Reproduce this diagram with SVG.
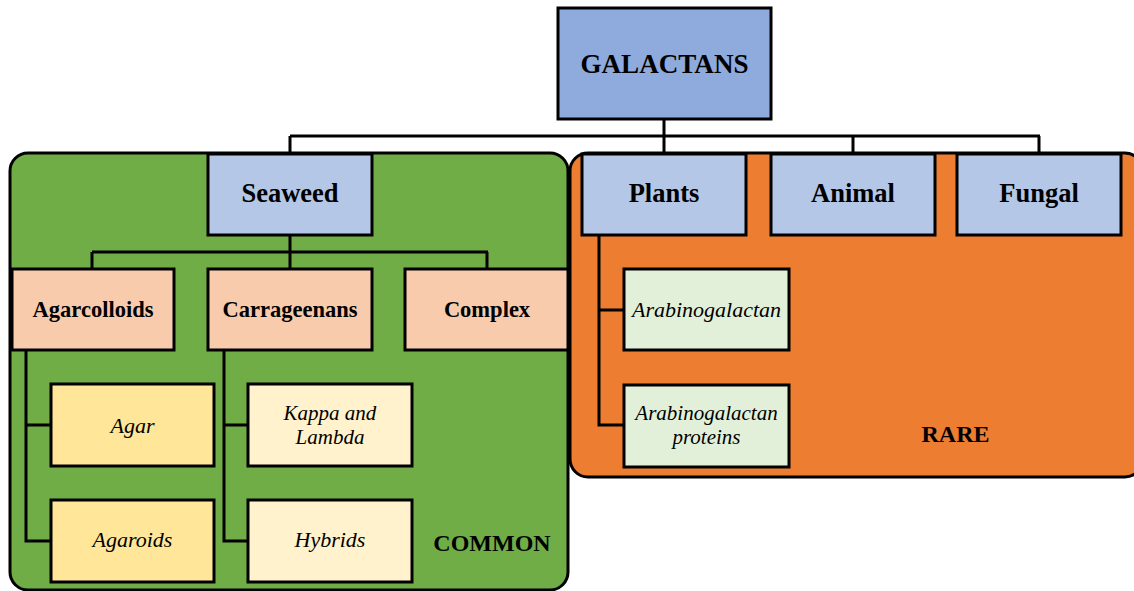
<svg xmlns="http://www.w3.org/2000/svg" width="1134" height="591" viewBox="0 0 1134 591">
<style>
.box{stroke:#000;stroke-width:3}
.root{fill:#8FAADC}
.l1{fill:#B4C7E7}
.l2{fill:#F8CBAD}
.agar{fill:#FFE699}
.carr{fill:#FFF2CC}
.plant{fill:#E2F0D9}
.region{stroke:#000;stroke-width:3}
.conn{fill:none;stroke:#000;stroke-width:3}
text{font-family:"Liberation Serif","Times New Roman",serif;fill:#000;text-anchor:middle}
.b{font-weight:bold}
.i{font-style:italic;font-size:22px}
.i2{font-style:italic;font-size:21px}
.t1{font-size:26.5px}
.t2{font-size:22.5px}
.lab{font-size:24px;font-weight:bold}
</style>
<rect width="1134" height="591" fill="#fff"/>
<g id="common-region">
<rect class="region" x="10" y="153" width="558" height="437" rx="18" fill="#70AD47"/>
</g>
<g id="rare-region">
<rect class="region" x="570" y="153" width="573" height="324" rx="18" fill="#ED7D31"/>
</g>
<g id="connectors">
<path class="conn" d="M664,119 V136 M290,136 H1040 M290,136 V154 M664,136 V154 M853,136 V154 M1039,136 V154"/>
<path class="conn" d="M290,235 V252 M92,252 H488 M92,252 V269 M290,252 V269 M487,252 V269"/>
<path class="conn" d="M26,350 V541 H51 M26,425 H51"/>
<path class="conn" d="M224,350 V541 H248 M224,425 H248"/>
<path class="conn" d="M599,235 V425 H624 M599,310 H624"/>
</g>
<g id="galactans">
<rect class="box root" x="558" y="8" width="213" height="111"/>
<text class="b" x="664.5" y="73" font-size="28" textLength="168" lengthAdjust="spacingAndGlyphs">GALACTANS</text>
</g>
<g id="seaweed">
<rect class="box l1" x="208" y="154" width="164" height="81"/>
<text class="b t1" x="290" y="202">Seaweed</text>
</g>
<g id="plants">
<rect class="box l1" x="582" y="154" width="164" height="81"/>
<text class="b t1" x="664" y="202">Plants</text>
</g>
<g id="animal">
<rect class="box l1" x="771" y="154" width="164" height="81"/>
<text class="b t1" x="853" y="202">Animal</text>
</g>
<g id="fungal">
<rect class="box l1" x="957" y="154" width="164" height="81"/>
<text class="b t1" x="1039" y="202">Fungal</text>
</g>
<g id="agarcolloids">
<rect class="box l2" x="12" y="269" width="162" height="81"/>
<text class="b t2" x="93" y="317">Agarcolloids</text>
</g>
<g id="carrageenans">
<rect class="box l2" x="208" y="269" width="164" height="81"/>
<text class="b t2" x="290" y="317">Carrageenans</text>
</g>
<g id="complex">
<rect class="box l2" x="405" y="269" width="163" height="81"/>
<text class="b t2" x="487" y="317">Complex</text>
</g>
<g id="agar">
<rect class="box agar" x="51" y="384" width="163" height="82"/>
<text class="i" x="132.5" y="433">Agar</text>
</g>
<g id="agaroids">
<rect class="box agar" x="51" y="500" width="163" height="82"/>
<text class="i" x="132.5" y="547">Agaroids</text>
</g>
<g id="kappa-lambda">
<rect class="box carr" x="248" y="384" width="164" height="82"/>
<text class="i2" x="330" y="419.5">Kappa and</text>
<text class="i2" x="330" y="443.5">Lambda</text>
</g>
<g id="hybrids">
<rect class="box carr" x="248" y="500" width="164" height="82"/>
<text class="i" x="330" y="547">Hybrids</text>
</g>
<g id="arabinogalactan">
<rect class="box plant" x="624" y="269" width="165" height="81"/>
<text class="i" x="706.5" y="317">Arabinogalactan</text>
</g>
<g id="arabinogalactan-proteins">
<rect class="box plant" x="624" y="385" width="165" height="82"/>
<text class="i2" x="706.5" y="419.5">Arabinogalactan</text>
<text class="i2" x="706.5" y="443.5">proteins</text>
</g>
<g id="labels">
<text class="lab" x="492" y="551">COMMON</text>
<text class="lab" x="955.5" y="442">RARE</text>
</g>
</svg>
